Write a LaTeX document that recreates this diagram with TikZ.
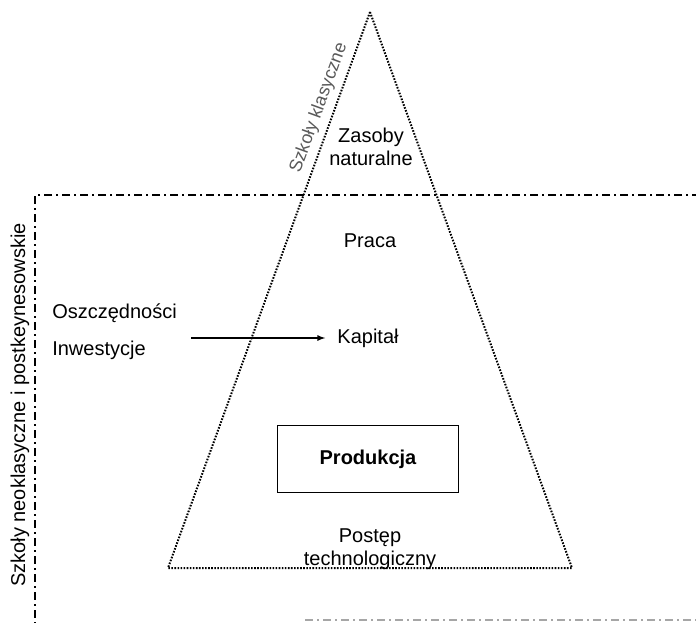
\documentclass[tikz,border=0pt]{standalone}
\usepackage{fontspec}
\setmainfont{Liberation Sans}
\usetikzlibrary{positioning}

\begin{document}
\begin{tikzpicture}[x=0.75pt,y=-0.75pt,
    every node/.style={font=\fontsize{15}{17}\selectfont,align=center,inner sep=0pt},
    schoolline/.style={line width=1pt,dash pattern=on 6pt off 3pt on 1.5pt off 3pt},
    pyramid/.style={line width=1.5pt,dash pattern=on 1.2pt off 1.1pt}]
      \useasboundingbox (0,0) rectangle (696,622);

      % pyramid
      \coordinate (apex) at (370,12);
      \coordinate (bl) at (168,568);
      \coordinate (br) at (572,568);
      \draw[pyramid] (apex) -- (bl) -- (br) -- cycle;

      % neoclassical frame
      \coordinate (tl) at (35,195);
      \coordinate (tr) at (700,195);
      \coordinate (ll) at (35,625);
      \coordinate (bm) at (305,620);
      \coordinate (bre) at (700,620);
      \draw[schoolline] (tr) -- (tl) -- (ll);
      \draw[schoolline,black!35] (bm) -- (bre);

      \node[rotate=70,text=black!65,font=\fontsize{13.5}{16}\selectfont] (klas) at (319,108) {Szkoły klasyczne};
      \node[rotate=90] (neo) at (20,405) {Szkoły neoklasyczne i postkeynesowskie};

      \node (zas) at (371,147) {Zasoby\\naturalne};
      \node (praca) at (370,241) {Praca};
      \node (kap) at (368,338) {Kapitał};
      \node[anchor=west] (osz) at (52,313) {Oszczędności};
      \node[below=28pt of osz.south west,anchor=south west] (inw) {Inwestycje};
      \node[draw,line width=0.8pt,minimum width=136pt,minimum height=50pt,font=\fontsize{15}{17}\selectfont\bfseries] (prod) at (368,459) {Produkcja};
      \node (post) at (370,549) {Postęp\\technologiczny};

      \coordinate (start) at (191,338);
      \draw[-latex,line width=1pt] (start) -- ([xshift=-9pt]kap.west);
    \end{tikzpicture}
\end{document}
